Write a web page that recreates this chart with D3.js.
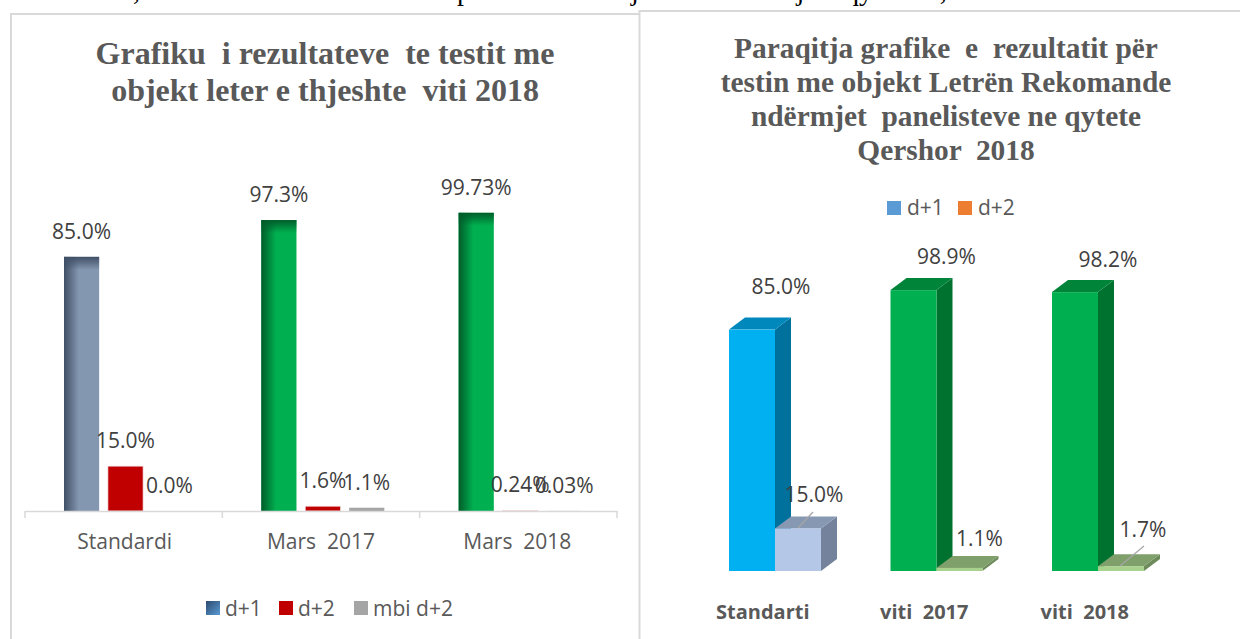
<!DOCTYPE html>
<html>
<head>
<meta charset="utf-8">
<script src="https://cdnjs.cloudflare.com/ajax/libs/d3/7.8.5/d3.min.js"></script>
<style>
html, body { margin: 0; padding: 0; background: #fff; overflow: hidden; }
text { white-space: pre; }
.serif { font-family: "Liberation Serif", serif; font-weight: bold; fill: #595959; text-anchor: middle; }
.lbl { font-family: "Open Sans", sans-serif; font-size: 21px; fill: #404040; text-anchor: middle; }
.cat { font-family: "Open Sans", sans-serif; font-size: 21px; fill: #595959; text-anchor: middle; }
.catb { font-family: "Open Sans", sans-serif; font-size: 20px; font-weight: bold; fill: #595959; text-anchor: middle; }
.leg { font-family: "Open Sans", sans-serif; font-size: 21px; fill: #595959; }
</style>
</head>
<body>
<script>
// left chart
var catsA = ["Standardi", "Mars  2017", "Mars  2018"];
var seriesA = ["d+1", "d+2", "mbi d+2"];
var d1A = [85.0, 97.3, 99.73];
var d2A = [15.0, 1.6, 0.24];
var d3A = [0.0, 1.1, 0.03];
var labelsA = [
    ["85.0%", "15.0%", "0.0%"],
    ["97.3%", "1.6%", "1.1%"],
    ["99.73%", "0.24%", "0.03%"]
];
var titleA = ["Grafiku  i rezultateve  te testit me", "objekt leter e thjeshte  viti 2018"];

// right chart
var catsB = ["Standarti", "viti  2017", "viti  2018"];
var seriesB = ["d+1", "d+2"];
var d1B = [85.0, 98.9, 98.2];
var d2B = [15.0, 1.1, 1.7];
var labelsB = [
    ["85.0%", "15.0%"],
    ["98.9%", "1.1%"],
    ["98.2%", "1.7%"]
];
var titleB = ["Paraqitja grafike  e  rezultatit për", "testin me objekt Letrën Rekomande", "ndërmjet  panelisteve ne qytete", "Qershor  2018"];

var pageWords = ["Grafiku  3, 4: rezultateve testeve", "per", "objekt", "ndërmjet", "qyteteve,", "viti 2018"];

var svg = d3.select("body").append("svg")
    .attr("width", 1240)
    .attr("height", 639);

var defs = svg.append("defs");

function edgeGrad(id, color, x2, y2, stop) {
    var g = defs.append("linearGradient")
        .attr("id", id)
        .attr("x1", 0).attr("y1", 0)
        .attr("x2", x2).attr("y2", y2);
    g.append("stop").attr("offset", 0).attr("stop-color", color).attr("stop-opacity", 1);
    g.append("stop").attr("offset", stop).attr("stop-color", color).attr("stop-opacity", 0);
}
edgeGrad("steelL", "#3f4f66", 1, 0, 0.42);
edgeGrad("steelT", "#3f4f66", 0, 1, 1);
edgeGrad("greenL", "#005c2a", 1, 0, 0.42);
edgeGrad("greenT", "#005c2a", 0, 1, 1);

var swatch = defs.append("linearGradient").attr("id", "swatch")
    .attr("x1", 0).attr("y1", 0).attr("x2", 1).attr("y2", 1);
swatch.append("stop").attr("offset", 0).attr("stop-color", "#2c4a6e");
swatch.append("stop").attr("offset", 1).attr("stop-color", "#5b9bd5");

// page text cut by the top of the picture
var pageX = [18, 457, 603, 725, 845, 965];
svg.selectAll("text.page")
    .data(pageWords)
    .enter().append("text")
    .attr("class", "page")
    .attr("x", function(d, i) { return pageX[i]; })
    .attr("y", 0)
    .style("font-family", "'Liberation Serif', serif")
    .style("font-size", "28px")
    .style("fill", "#000")
    .text(function(d) { return d; });

// panel frames
var frames = svg.append("g")
    .attr("fill", "none")
    .attr("stroke", "#d9d9d9")
    .attr("stroke-width", 2);
frames.append("path").attr("d", "M11,639V14H639");
frames.append("path").attr("d", "M639.5,639V11H1240");

/* ---------- left chart ---------- */
var gA = svg.append("g");

titleA.forEach(function(t, i) {
    gA.append("text")
        .attr("class", "serif")
        .attr("x", 325)
        .attr("y", 64 + i * 37)
        .style("font-size", "32px")
        .text(t);
});

var xA = d3.scaleBand().domain(catsA).range([25, 617]);
var xInnerA = d3.scaleBand().domain(seriesA).range([39, 162]).paddingInner(0.2);
var yA = d3.scaleLinear().domain([0, 100]).range([511, 212]);

var valuesA = [d1A, d2A, d3A];
var colorsA = ["#8497b0", "#c00000", "#a5a5a5"];

catsA.forEach(function(c, i) {
    seriesA.forEach(function(s, j) {
        var v = valuesA[j][i];
        var x = xA(c) + xInnerA(s);
        var w = xInnerA.bandwidth();
        var h = yA(0) - yA(v);
        var fill = j == 0 ? (i == 0 ? "#8497b0" : "#00b050") : colorsA[j];

        gA.append("rect")
            .attr("x", x).attr("y", yA(v))
            .attr("width", w).attr("height", h)
            .attr("fill", fill)
            .attr("stroke", j == 1 ? "#f4d9d9" : "none")
            .attr("stroke-width", 0.7);

        if (j == 0) {
            var key = i == 0 ? "steel" : "green";
            gA.append("rect")
                .attr("x", x).attr("y", yA(v))
                .attr("width", w).attr("height", h)
                .attr("fill", "url(#" + key + "L)");
            gA.append("rect")
                .attr("x", x).attr("y", yA(v))
                .attr("width", w).attr("height", 13)
                .attr("fill", "url(#" + key + "T)");
        }

        gA.append("text")
            .attr("class", "lbl")
            .attr("x", x + w / 2)
            .attr("y", yA(v) - 18)
            .text(labelsA[i][j]);
    });
});

var axisA = gA.append("g")
    .attr("transform", "translate(0," + yA(0) + ")")
    .call(d3.axisBottom(xA).tickSize(0).tickPadding(23));
axisA.select(".domain").attr("stroke", "#d9d9d9").attr("stroke-width", 1.5);
axisA.selectAll("text")
    .attr("class", "cat")
    .attr("font-family", null)
    .attr("font-size", null)
    .attr("dx", function(d, i) { return [1, 0, -1][i]; });

// ticks between the categories
axisA.selectAll("line.sep")
    .data(catsA.map(function(c) { return xA(c); }).concat([617]))
    .enter().append("line")
    .attr("class", "sep")
    .attr("x1", function(d) { return d; })
    .attr("x2", function(d) { return d; })
    .attr("y1", 0)
    .attr("y2", 7)
    .attr("stroke", "#d9d9d9")
    .attr("stroke-width", 1.5);

var legendA = gA.selectAll("g.legA")
    .data(seriesA)
    .enter().append("g")
    .attr("class", "legA")
    .attr("transform", function(d, i) {
        return "translate(" + [206, 279, 354][i] + ",601)";
    });
legendA.append("rect")
    .attr("width", 14)
    .attr("height", 14)
    .attr("fill", function(d, i) { return i == 0 ? "url(#swatch)" : colorsA[i]; });
legendA.append("text")
    .attr("class", "leg")
    .attr("x", 19)
    .attr("y", 15)
    .text(function(d) { return d; });

/* ---------- right chart ---------- */
var gB = svg.append("g");

titleB.forEach(function(t, i) {
    gB.append("text")
        .attr("class", "serif")
        .attr("x", 946)
        .attr("y", 58 + i * 34)
        .style("font-size", "29.4px")
        .text(t);
});

var xB = d3.scaleBand().domain(catsB).range([680, 1164.5]);
var xInnerB = d3.scaleBand().domain(seriesB).range([49, 141]);
var yB = d3.scaleLinear().domain([0, 100]).range([571, 287]);

var valuesB = [d1B, d2B];
var depthX = 16, depthY = 12;

// front, side, top
var paletteB = {
    blue: ["#00b0f0", "#00709c", "#0088bd"],
    pale: ["#b4c7e7", "#74829c", "#8798b3"],
    green: ["#00b050", "#00722f", "#00843a"],
    lime: ["#a9d18e", "#6d8a5b", "#7f9f6b"]
};

// hand placed labels in the reference: offset from the bar middle
var labelDx = [[29, 16], [33, 20], [33, 22]];
var labelY = [[294, 502], [264, 546], [267, 537]];
var leaders = [null, [798, 528, 813, 512], null, null, null, [1120, 566, 1144, 546]];

function poly(pts, fill, parent) {
    parent.append("polygon")
        .attr("points", pts.map(function(p) { return p.join(","); }).join(" "))
        .attr("fill", fill);
}

catsB.forEach(function(c, i) {
    seriesB.forEach(function(s, j) {
        var v = valuesB[j][i];
        var x = xB(c) + xInnerB(s);
        var w = xInnerB.bandwidth();
        var t = yB(v), b = yB(0);
        var pal = j == 0 ? (i == 0 ? paletteB.blue : paletteB.green) : (i == 0 ? paletteB.pale : paletteB.lime);

        poly([[x + w, t], [x + w + depthX, t - depthY], [x + w + depthX, b - depthY], [x + w, b]], pal[1], gB);
        poly([[x, t], [x + depthX, t - depthY], [x + w + depthX, t - depthY], [x + w, t]], pal[2], gB);
        gB.append("rect")
            .attr("x", x).attr("y", t)
            .attr("width", w).attr("height", b - t)
            .attr("fill", pal[0]);

        var l = leaders[i * 2 + j];
        if (l) {
            gB.append("line")
                .attr("x1", l[0]).attr("y1", l[1])
                .attr("x2", l[2]).attr("y2", l[3])
                .attr("stroke", "#a6a6a6")
                .attr("stroke-width", 1.2);
        }
    });
});

catsB.forEach(function(c, i) {
    seriesB.forEach(function(s, j) {
        gB.append("text")
            .attr("class", "lbl")
            .attr("x", xB(c) + xInnerB(s) + xInnerB.bandwidth() / 2 + labelDx[i][j])
            .attr("y", labelY[i][j])
            .text(labelsB[i][j]);
    });
});

var axisB = gB.append("g")
    .attr("transform", "translate(0,571)")
    .call(d3.axisBottom(xB).tickSize(0).tickPadding(30));
axisB.select(".domain").remove();
axisB.selectAll("text")
    .attr("class", "catb")
    .attr("font-family", null)
    .attr("font-size", null)
    .attr("dx", function(d, i) { return [2, 2, 1][i]; })
    .attr("dy", 18);

var legendB = gB.selectAll("g.legB")
    .data(seriesB)
    .enter().append("g")
    .attr("class", "legB")
    .attr("transform", function(d, i) {
        return "translate(" + [887, 958][i] + ",201)";
    });
legendB.append("rect")
    .attr("width", 14)
    .attr("height", 14)
    .attr("fill", function(d, i) { return ["#5b9bd5", "#ed7d31"][i]; });
legendB.append("text")
    .attr("class", "leg")
    .attr("x", 20)
    .attr("y", 14)
    .text(function(d) { return d; });
</script>
</body>
</html>
